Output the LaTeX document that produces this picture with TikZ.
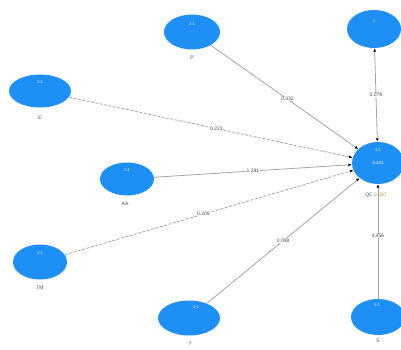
\documentclass[tikz,border=0pt]{standalone}
\usepackage{fontspec}
\setmainfont{Liberation Sans}
\usetikzlibrary{arrows.meta,shapes.geometric}
\definecolor{nodeblue}{RGB}{30,144,245}
\definecolor{edgegray}{RGB}{165,165,165}
\definecolor{valbrown}{RGB}{200,150,60}
\begin{document}
\begin{tikzpicture}[x=1pt,y=-1pt,
  lv/.style={ellipse,fill=nodeblue,draw=none,minimum width=56pt,minimum height=35pt,inner sep=0pt},
  nm/.style={font=\fontsize{5}{6}\selectfont,text=black!70},
  inner/.style={font=\fontsize{4}{5}\selectfont,text=white},
  conn/.style={draw=edgegray,line width=0.8pt,-{Latex[length=3.5pt,width=3pt,black]}},
  dconn/.style={conn,dashed,dash pattern=on 3pt off 1.5pt},
  ev/.style={font=\fontsize{5}{6}\selectfont,text=black!70,fill=white,inner sep=0.5pt}]
\useasboundingbox (0,0) rectangle (401,350);
\node[lv] (P) at (192,32) {};
\node[inner] at (192,24) {1-1};
\node[nm] (Pl) at (192,58) {P};
\node[lv,minimum width=54pt,minimum height=38pt] (T) at (374,29) {};
\node[inner] at (374,21) {1};
\node[lv,minimum width=62pt,minimum height=33pt] (E) at (40,91) {};
\node[inner] at (40,82) {1-1};
\node[nm] (El) at (40,118) {E};
\node[lv,minimum width=54pt,minimum height=33pt] (AA) at (127,179) {};
\node[inner] at (127,170) {1-1};
\node[nm] (AAl) at (125,204) {AA};
\node[lv,minimum width=54pt,minimum height=35pt] (TM) at (40,262) {};
\node[inner] at (40,253) {1-1};
\node[nm] (TMl) at (40,288) {TM};
\node[lv,minimum width=62pt,minimum height=35pt] (B) at (189,318) {};
\node[inner] at (196,307) {1-1};
\node[nm] (Bl) at (190,344) {?};
\node[lv,minimum width=54pt,minimum height=36pt] (S) at (378,317) {};
\node[inner] at (377,305) {1-1};
\node[nm] (Sl) at (378,341) {S};
\node[lv,minimum width=52pt,minimum height=42pt] (QC) at (378,163) {};
\node[inner] at (378,150) {1-1};
\node[inner,font=\fontsize{4.5}{5}\selectfont] at (378,163) {0.241};
\node[nm,text=nodeblue!60!black] (QCl) at (376,195) {QC \textcolor{valbrown}{0.587}};
\draw[conn] (P) -- node[ev,pos=0.52]{0.332} (QC);
\draw[edgegray,line width=0.8pt,{Latex[length=3.5pt,width=3pt,black]}-{Latex[length=3.5pt,width=3pt,black]}] (T) -- node[ev]{0.079} (QC);
\draw[dconn] (E) -- node[ev,pos=0.52]{0.223} (QC);
\draw[conn] (AA) -- node[ev,pos=0.5]{1.281} (QC);
\draw[dconn] (TM) -- node[ev,pos=0.48]{0.309} (QC);
\draw[conn] (B) -- node[ev,pos=0.5]{0.098} (QC);
\draw[conn] (S) -- node[ev,pos=0.55]{4.456} (QC);
\end{tikzpicture}
\end{document}
